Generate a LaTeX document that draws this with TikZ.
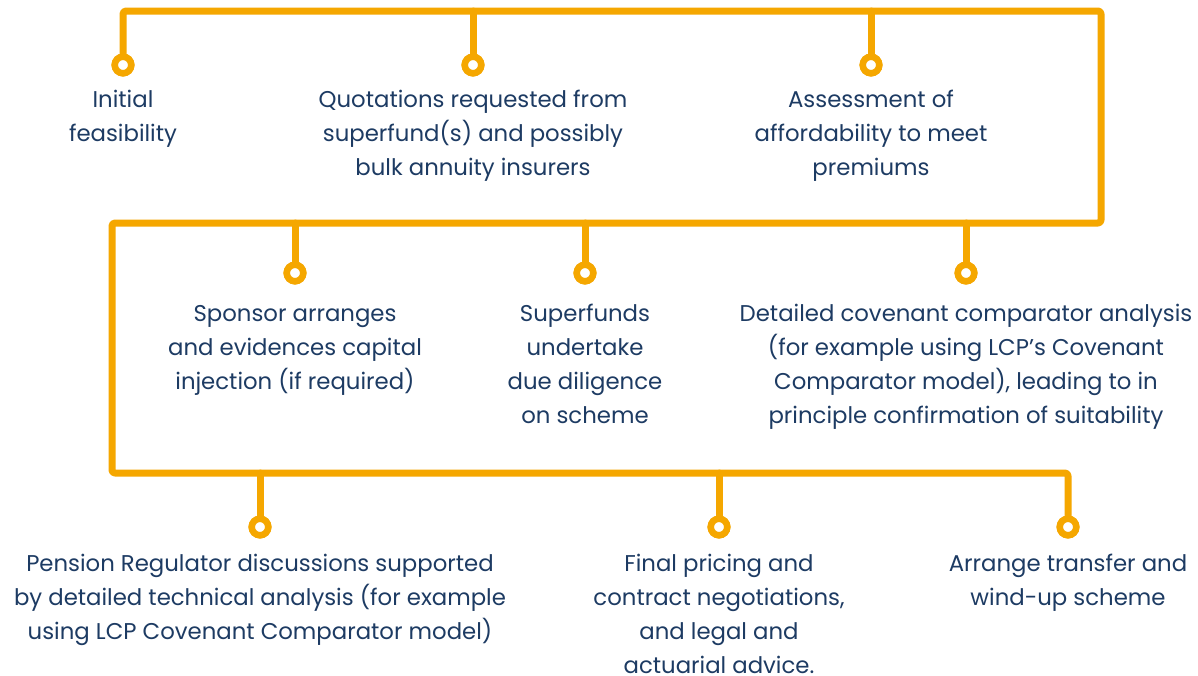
\documentclass[tikz,border=0pt]{standalone}
\usepackage{fontspec}
\setmainfont{Poppins}
\definecolor{lcporange}{HTML}{F5A700}
\definecolor{lcpnavy}{HTML}{1D3B63}

\begin{document}
\begin{tikzpicture}[x=1pt,y=-1pt]
  % overall canvas
  \useasboundingbox (0,0) rectangle (1198,675);

  % styles
  \tikzset{
    track/.style={draw=lcporange,line width=7pt,line cap=round,line join=round,rounded corners=3pt},
    stop/.style={circle,draw=lcporange,fill=white,line width=6.5pt,minimum size=16.5pt,inner sep=0pt},
    steptext/.style={text=lcpnavy,align=center,anchor=base,inner sep=0pt,
      font=\fontsize{22.8}{34.2}\selectfont},
  }

  % white background
  \fill[white] (0,0) rectangle (1198,675);

  % stops on the track
  \node[stop] (s1) at ( 123, 65) {};
  \node[stop] (s2) at ( 473, 65) {};
  \node[stop] (s3) at ( 871, 65) {};
  \node[stop] (s4) at ( 295,273) {};
  \node[stop] (s5) at ( 585,273) {};
  \node[stop] (s6) at ( 966,273) {};
  \node[stop] (s7) at ( 260,527) {};
  \node[stop] (s8) at ( 719,527) {};
  \node[stop] (s9) at (1068,527) {};

  % branch points on the track
  \coordinate (b2) at ( 473, 11);
  \coordinate (b3) at ( 871, 11);
  \coordinate (b4) at ( 295,223);
  \coordinate (b5) at ( 585,223);
  \coordinate (b6) at ( 966,223);
  \coordinate (b7) at ( 260,473);
  \coordinate (b8) at ( 719,473);

  % --- the winding track ---
  \draw[track] (s1.center) -- (123,11) -- (1101,11) -- (1101,223)
    -- (112,223) -- (112,473) -- (1068,473) -- (s9.center);
  \foreach \i in {2,...,8}
    \draw[track] (b\i) -- (s\i.center);

  % redraw stops on top
  \foreach \i in {1,...,9}
    \node[stop] at (s\i) {};

  % first row (base = last line)
  \node[steptext] (t1) at ( 123,141.2) {Initial\\feasibility};
  \node[steptext] (t2) at ( 473,175.4) {Quotations requested from\\superfund(s) and possibly\\bulk annuity insurers};
  \node[steptext] (t3) at ( 871,175.4) {Assessment of\\affordability to meet\\premiums};

  % second row
  \node[steptext] (t4) at ( 295,389.4) {Sponsor arranges\\and evidences capital\\injection (if required)};
  \node[steptext] (t5) at ( 585,423.6) {Superfunds\\undertake\\due diligence\\on scheme};
  \node[steptext] (t6) at ( 966,423.6) {Detailed covenant comparator analysis\\(for example using LCP’s Covenant\\Comparator model), leading to in\\principle confirmation of suitability};

  % third row
  \node[steptext] (t7) at ( 260,639.4) {Pension Regulator discussions supported\\by detailed technical analysis (for example\\using LCP Covenant Comparator model)};
  \node[steptext] (t8) at ( 719,673.6) {Final pricing and\\contract negotiations,\\and legal and\\actuarial advice.};
  \node[steptext] (t9) at (1068,605.2) {Arrange transfer and\\wind-up scheme};
\end{tikzpicture}
\end{document}
